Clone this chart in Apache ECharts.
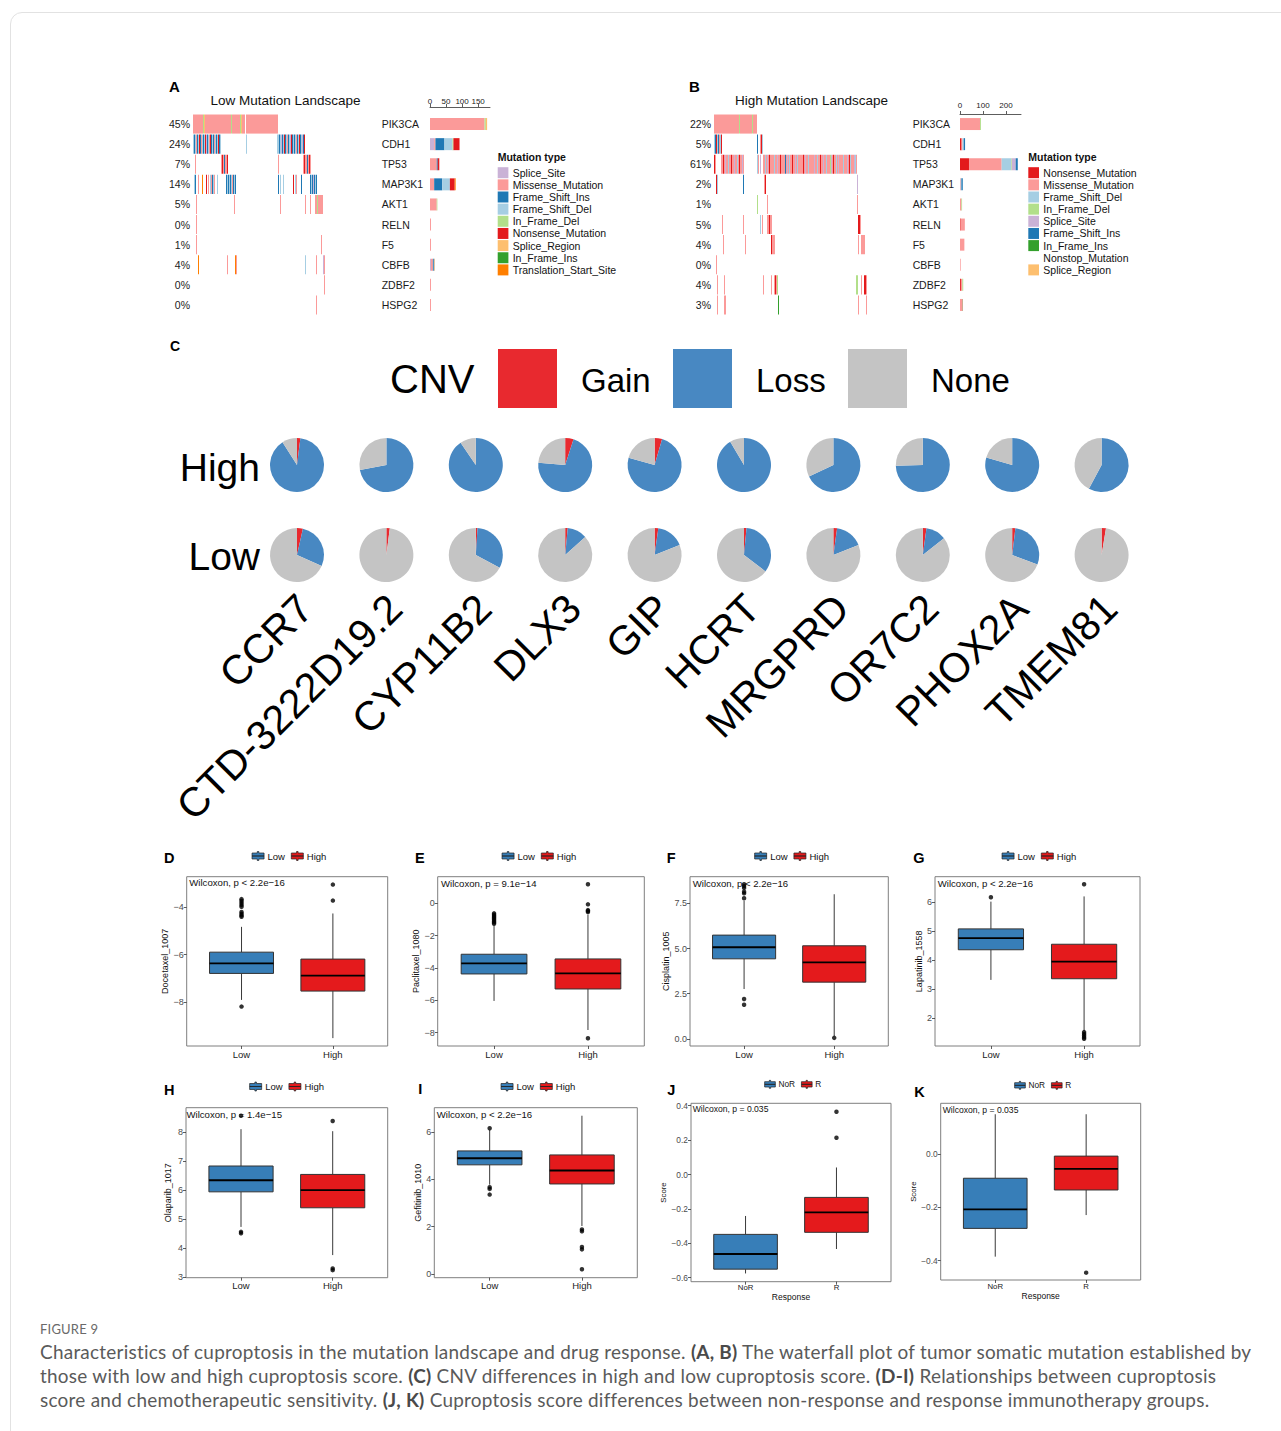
<!DOCTYPE html>
<html><head><meta charset="utf-8">
<script src="https://cdn.jsdelivr.net/npm/echarts@6/dist/echarts.min.js"></script>
<style>
html,body{margin:0;padding:0;background:#fff;width:1281px;height:1431px;overflow:hidden;}
#frame{position:absolute;left:10px;top:12px;width:1300px;height:1500px;border:1px solid #e2e2e2;border-radius:12px;box-sizing:border-box;}
#chart{position:absolute;left:0;top:0;width:1281px;height:1310px;}
#cap{position:absolute;left:40px;top:1318px;font-family:Lato,'Open Sans',sans-serif;color:#5a5a5a;}
#cap .fig{font-size:13px;letter-spacing:0.2px;color:#6a6a6a;height:22px;line-height:22px;}
#cap .ln{white-space:nowrap;font-size:18.6px;letter-spacing:0.25px;line-height:24px;height:24px;}
#cap b{color:#4a4a4a;}
</style></head><body>
<div id="frame"></div>
<div id="chart"></div>
<div id="cap">
<div class="fig">FIGURE 9</div>
<div class="ln"><span id="l1">Characteristics of cuproptosis in the mutation landscape and drug response. <b>(A, B)</b> The waterfall plot of tumor somatic mutation established by</span></div>
<div class="ln">those with low and high cuproptosis score. <b>(C)</b> CNV differences in high and low cuproptosis score. <b>(D-I)</b> Relationships between cuproptosis</div>
<div class="ln">score and chemotherapeutic sensitivity. <b>(J, K)</b> Cuproptosis score differences between non-response and response immunotherapy groups.</div>
</div>
<script>
// fit caption line width to the reference (line 1 spans 1211 px)
function fitCaption(){
  try {
    const l1 = document.getElementById('l1');
    const w = l1.getBoundingClientRect().width;
    const cur = parseFloat(getComputedStyle(l1).fontSize);
    if (w > 0) {
      const fs = cur * 1211 / w;
      document.querySelectorAll('#cap .ln').forEach(el => el.style.fontSize = fs.toFixed(2) + 'px');
    }
  } catch (e) {}
}
fitCaption();

// ---------------- DATA ----------------
const mutTypes = ['Splice_Site','Missense_Mutation','Frame_Shift_Ins','Frame_Shift_Del','In_Frame_Del','Nonsense_Mutation','Splice_Region','In_Frame_Ins','Translation_Start_Site','Nonstop_Mutation'];
const mutCodes = ['S','M','I','D','d','N','R','i','T','X'];
const mutColors = ['#CAB2D6','#FB9A99','#1F78B4','#A6CEE3','#B2DF8A','#E31A1C','#FDBF6F','#33A02C','#FF7F00','#FFFFFF'];

const geneList = ['PIK3CA','CDH1','TP53','MAP3K1','AKT1','RELN','F5','CBFB','ZDBF2','HSPG2'];
const lowPct = ['45%','24%','7%','14%','5%','0%','1%','4%','0%','0%'];
const highPct = ['22%','5%','61%','2%','1%','5%','4%','0%','4%','3%'];

const lowLegendOrder = ['Splice_Site','Missense_Mutation','Frame_Shift_Ins','Frame_Shift_Del','In_Frame_Del','Nonsense_Mutation','Splice_Region','In_Frame_Ins','Translation_Start_Site'];
const highLegendOrder = ['Nonsense_Mutation','Missense_Mutation','Frame_Shift_Del','In_Frame_Del','Splice_Site','Frame_Shift_Ins','In_Frame_Ins','Nonstop_Mutation','Splice_Region'];

// counts per gene, in legend (stack) order
const lowBarCounts = [
  [0,13,0,0,0,0,0,3,0,0],     // Splice_Site
  [170,4,21,13,21,3,3,6,3,3], // Missense
  [0,28,3,25,0,0,0,3,0,0],    // Frame_Shift_Ins
  [0,25,0,24,0,0,0,2,0,0],    // Frame_Shift_Del
  [4,3,0,0,2,0,0,0,0,0],      // In_Frame_Del
  [0,19,5,15,0,0,0,0,0,0],    // Nonsense
  [4,0,0,0,0,0,0,0,0,0],      // Splice_Region
  [0,0,0,0,0,0,0,0,0,0],      // In_Frame_Ins
  [0,0,0,3,0,0,0,1,0,0]       // Translation_Start_Site
];
const highBarCounts = [
  [0,7,39,0,0,3,0,0,4,0],     // Nonsense
  [87,4,142,3,6,18,19,3,6,12],// Missense
  [0,5,41,3,0,0,0,0,0,0],     // Frame_Shift_Del
  [4,0,3,0,3,0,0,0,4,0],      // In_Frame_Del
  [0,0,17,0,0,0,0,0,0,0],     // Splice_Site
  [0,6,9,6,0,0,0,0,0,0],      // Frame_Shift_Ins
  [0,0,0,0,0,0,0,0,0,1],      // In_Frame_Ins
  [0,0,0,0,0,0,0,0,0,0],      // Nonstop
  [0,0,0,0,0,0,0,0,0,0]       // Splice_Region
];
const lowAxisTicks = [0,50,100,150];
const highAxisTicks = [0,100,200];

// oncoplot columns: [start, end, code] runs or [start, 'codes'] stripes ('.' = none)
const lowMatrix = [
  [[0,9,'M'],[10,'dR'],[12,37,'M'],[38,'d'],[39,46,'M'],[47,'dR'],[49,51,'M'],[53,84,'M']],
  [[0,'DIDMIDNIMDIDNSIDMNIDIMDIDNID'],[53,'D'],[84,'DDIDSIDNIDMIDSNIDIDMIDNIDSIN']],
  [[2,'M'],[28,'MNMIMMN'],[85,'M'],[110,'MNMMIMNM']],
  [[1,'DI..M...T...N.M.DMIDM..D'],[33,'IDIDIDMIDI'],[85,'I.D..D'],[100,'N.DM....I'],[117,'IDISIDI']],
  [[3,'M'],[41,'M'],[87,'M'],[112,'M'],[117,'M'],[122,'MMdMMMMM']],
  [[3,'M']],
  [[3,'M'],[128,'M']],
  [[5,'T'],[34,'M'],[42,'TM'],[112,'D'],[123,'M'],[130,'SM']],
  [[131,'M']],
  [[123,'M']]
];
const highTP53Block = 'MMDMSMNMMM' + 'MDMMSMMNMM' + 'MMIMSMDMMN' + 'MMSMDMMMMM' + 'NMSMMDMMMM' +
                      'MSMMDMMNMM' + 'SMMDMMMdSM' + 'NMMDMSMMMM' + 'DMMMSMNDMM' + 'MSDM';
const highMatrix = [
  [[0,24,'M'],[25,'d'],[26,37,'M'],[38,'d'],[39,42,'M']],
  [[0,'DINDIMDN'],[43,'I'],[46,'MND']],
  [[0,'NM'],[7,'MMNMSMMDMMNMMSMMDMNMMSM'],[43,'DM.S'],[49,highTP53Block]],
  [[2,'ND'],[29,'I'],[50,'MN'],[143,'S']],
  [[43,'d'],[53,'M'],[143,'M']],
  [[8,'M'],[29,'M'],[46,'D'],[48,'M'],[53,'MMNMM'],[144,'NNM']],
  [[9,'M'],[31,'M'],[57,'NMMM'],[144,'M'],[147,'MMMM']],
  [[2,'M']],
  [[3,'M'],[10,'M'],[49,'M'],[57,'M'],[60,'MNMd'],[142,'dd'],[147,'M'],[150,'NNM']],
  [[3,'M'],[10,'MM'],[64,'i'],[144,'M'],[152,'M']]
];

// CNV pies (fractions)
const cnvTypes = ['Gain','Loss','None'];
const cnvColors = ['#E8292F','#4888C2','#C4C4C4'];
const cnvGenes = ['CCR7','CTD-3222D19.2','CYP11B2','DLX3','GIP','HCRT','MRGPRD','OR7C2','PHOX2A','TMEM81'];
const highGain = [0.02, 0, 0, 0.05, 0.045, 0, 0, 0, 0, 0];
const highLoss = [0.89, 0.72, 0.905, 0.714, 0.748, 0.915, 0.68, 0.746, 0.795, 0.578];
const highNone = [0.09, 0.28, 0.095, 0.236, 0.207, 0.085, 0.32, 0.254, 0.205, 0.422];
const lowGain = [0.035, 0.02, 0.01, 0.015, 0.022, 0.015, 0.022, 0.022, 0.019, 0.026];
const lowLoss = [0.282, 0, 0.318, 0.118, 0.167, 0.339, 0.168, 0.122, 0.289, 0];
const lowNone = [0.683, 0.98, 0.672, 0.867, 0.811, 0.646, 0.81, 0.856, 0.692, 0.974];

// boxplots: [lower whisker, Q1, median, Q3, upper whisker]
const lowHighGroups = ['Low','High'];
const responseGroups = ['NoR','R'];
const docetaxelLow = [-7.90, -6.79, -6.37, -5.90, -4.84];
const docetaxelHigh = [-9.50, -7.53, -6.88, -6.19, -4.28];
const docetaxelLowOut = [-3.68, -3.76, -3.84, -3.92, -4.00, -4.22, -4.29, -4.36, -4.42, -8.18];
const docetaxelHighOut = [-3.07, -3.74];
const paclitaxelLow = [-6.04, -4.37, -3.71, -3.15, -1.40];
const paclitaxelHigh = [-7.84, -5.30, -4.33, -3.44, -0.70];
const paclitaxelLowOut = [-0.62, -0.70, -0.78, -0.86, -0.94, -1.02, -1.10, -1.18, -1.26];
const paclitaxelHighOut = [1.18, -0.06, -0.42, -0.48, -0.54, -8.35];
const cisplatinLow = [2.76, 4.43, 5.07, 5.74, 7.63];
const cisplatinHigh = [0.15, 3.14, 4.23, 5.15, 8.00];
const cisplatinLowOut = [8.55, 8.45, 8.35, 8.14, 8.05, 7.78, 2.21, 1.89];
const cisplatinHighOut = [0.06];
const lapatinibLow = [3.32, 4.36, 4.76, 5.08, 6.02];
const lapatinibHigh = [1.56, 3.36, 3.95, 4.55, 6.20];
const lapatinibLowOut = [6.17];
const lapatinibHighOut = [6.62, 1.52, 1.46, 1.40, 1.34, 1.29];
const olaparibLow = [4.72, 5.93, 6.33, 6.82, 8.09];
const olaparibHigh = [3.75, 5.38, 5.99, 6.53, 8.02];
const olaparibLowOut = [8.55, 4.55, 4.50];
const olaparibHighOut = [8.37, 3.29, 3.23];
const gefitinibLow = [3.78, 4.62, 4.90, 5.21, 6.10];
const gefitinibHigh = [2.03, 3.81, 4.38, 5.04, 6.70];
const gefitinibLowOut = [6.17, 3.67, 3.60, 3.36];
const gefitinibHighOut = [1.88, 1.81, 1.14, 1.04, 0.20];
const scoreJNoR = [-0.575, -0.550, -0.462, -0.348, -0.241];
const scoreJR = [-0.433, -0.336, -0.220, -0.133, 0.041];
const scoreJNoROut = [];
const scoreJROut = [0.365, 0.214];
const scoreKNoR = [-0.385, -0.279, -0.208, -0.091, 0.149];
const scoreKR = [-0.229, -0.135, -0.056, -0.008, 0.149];
const scoreKNoROut = [];
const scoreKROut = [-0.445];

const docetaxelTicks = [-8,-6,-4];
const paclitaxelTicks = [-8,-6,-4,-2,0];
const cisplatinTicks = [0,2.5,5,7.5];
const lapatinibTicks = [2,3,4,5,6];
const olaparibTicks = [3,4,5,6,7,8];
const gefitinibTicks = [0,2,4,6];
const scoreJTicks = [-0.6,-0.4,-0.2,0,0.2,0.4];
const scoreKTicks = [-0.4,-0.2,0];

// ---------------- LAYOUT ----------------
const FONT = "'Liberation Sans', Arial, Helvetica, sans-serif";
const boxColors = ['#377EB8','#E41A1C'];
const MINUS = '\u2212';
const boxPanels = [
  {letter:'D', yName:'Docetaxel_1007', groups:lowHighGroups, stats:[docetaxelLow,docetaxelHigh], outs:[docetaxelLowOut,docetaxelHighOut], p:'Wilcoxon, p < 2.2e'+MINUS+'16', ticks:docetaxelTicks, yr:[-9.83,-2.74], dec:0, rect:[186.7,876.7,201,169.3], gap:15, leg:[251.7,851], let:[164,858], pAt:[189.3,882.7], small:false},
  {letter:'E', yName:'Paclitaxel_1080', groups:lowHighGroups, stats:[paclitaxelLow,paclitaxelHigh], outs:[paclitaxelLowOut,paclitaxelHighOut], p:'Wilcoxon, p = 9.1e'+MINUS+'14', ticks:paclitaxelTicks, yr:[-8.83,1.65], dec:0, rect:[437.7,876.7,206.6,169.3], gap:15, leg:[501.7,851], let:[415,858], pAt:[441,883], small:false},
  {letter:'F', yName:'Cisplatin_1005', groups:lowHighGroups, stats:[cisplatinLow,cisplatinHigh], outs:[cisplatinLowOut,cisplatinHighOut], p:'Wilcoxon, p < 2.2e'+MINUS+'16', ticks:cisplatinTicks, yr:[-0.39,8.97], dec:1, rect:[690,876.7,198.3,169.3], gap:17, leg:[754.3,851], let:[666.7,858], pAt:[692.7,883], small:false},
  {letter:'G', yName:'Lapatinib_1558', groups:lowHighGroups, stats:[lapatinibLow,lapatinibHigh], outs:[lapatinibLowOut,lapatinibHighOut], p:'Wilcoxon, p < 2.2e'+MINUS+'16', ticks:lapatinibTicks, yr:[1.04,6.88], dec:0, rect:[935,876.7,205,169.3], gap:12, leg:[1001.7,851], let:[913.3,858], pAt:[937.7,883], small:false},
  {letter:'H', yName:'Olaparib_1017', groups:lowHighGroups, stats:[olaparibLow,olaparibHigh], outs:[olaparibLowOut,olaparibHighOut], p:'Wilcoxon, p = 1.4e'+MINUS+'15', ticks:olaparibTicks, yr:[2.97,8.83], dec:0, rect:[186,1107.7,201.7,170], gap:14, leg:[249.3,1081.5], let:[164,1090], pAt:[186.5,1114], small:false},
  {letter:'I', yName:'Gefitinib_1010', groups:lowHighGroups, stats:[gefitinibLow,gefitinibHigh], outs:[gefitinibLowOut,gefitinibHighOut], p:'Wilcoxon, p < 2.2e'+MINUS+'16', ticks:gefitinibTicks, yr:[-0.16,7.04], dec:0, rect:[434.3,1107.7,203,170], gap:11.5, leg:[500.7,1081.5], let:[418.3,1089], pAt:[436.7,1114.3], small:false},
  {letter:'J', yName:'Score', xName:'Response', groups:responseGroups, stats:[scoreJNoR,scoreJR], outs:[scoreJNoROut,scoreJROut], p:'Wilcoxon, p = 0.035', ticks:scoreJTicks, yr:[-0.623,0.414], dec:1, rect:[691,1103.3,200,178.4], gap:18, leg:[764.3,1080], let:[667.3,1090], pAt:[692.7,1109], small:true},
  {letter:'K', yName:'Score', xName:'Response', groups:responseGroups, stats:[scoreKNoR,scoreKR], outs:[scoreKNoROut,scoreKROut], p:'Wilcoxon, p = 0.035', ticks:scoreKTicks, yr:[-0.4725,0.19], dec:1, rect:[940.7,1103.3,200,176.7], gap:18, leg:[1014.3,1081], let:[914.3,1091.5], pAt:[942.7,1110], small:true}
];

// ---------------- BUILD ----------------
function buildCells(rows){
  const out = [];
  rows.forEach((segs, r) => {
    segs.forEach(seg => {
      if (typeof seg[1] === 'string') {
        const p = seg[1];
        for (let k = 0; k < p.length; k++) {
          if (p[k] !== '.') out.push([seg[0] + k, r, mutCodes.indexOf(p[k]), 1]);
        }
      } else {
        out.push([seg[0], r, mutCodes.indexOf(seg[2]), seg[1] - seg[0] + 1]);
      }
    });
  });
  return out;
}
function matrixRender(params, api){
  const c = api.coord([api.value(0), api.value(1)]);
  const s = api.size([api.value(3), 1]);
  return {type:'rect', shape:{x:c[0], y:c[1] - s[1]*0.475, width:s[0], height:s[1]*0.95},
          style:{fill: mutColors[api.value(2)]}};
}
function boxRender(params, api){
  const x = api.value(0);
  const w = api.size([0.7, 0])[0];
  const lo = api.coord([x, api.value(1)]), q1 = api.coord([x, api.value(2)]),
        md = api.coord([x, api.value(3)]), q3 = api.coord([x, api.value(4)]), hi = api.coord([x, api.value(5)]);
  const fill = api.visual('color');
  return {type:'group', children:[
    {type:'line', shape:{x1:lo[0], y1:lo[1], x2:q1[0], y2:q1[1]}, style:{stroke:'#222', lineWidth:0.9}},
    {type:'line', shape:{x1:q3[0], y1:q3[1], x2:hi[0], y2:hi[1]}, style:{stroke:'#222', lineWidth:0.9}},
    {type:'rect', shape:{x:q1[0]-w/2, y:q3[1], width:w, height:q1[1]-q3[1]}, style:{fill:fill, stroke:'#333', lineWidth:1}},
    {type:'line', shape:{x1:md[0]-w/2, y1:md[1], x2:md[0]+w/2, y2:md[1]}, style:{stroke:'#000', lineWidth:1.8}}
  ]};
}
function T(x, y, text, size, o){
  o = o || {};
  return {type:'text', x:x, y:y, rotation:o.rot || 0, silent:true,
    style:{text:text, fontSize:size, fontFamily:FONT, fontWeight:o.bold ? 'bold' : 'normal', fill:o.color || '#111',
      align:o.align || 'left', verticalAlign:o.va || 'middle', textAlign:o.align || 'left', textVerticalAlign:o.va || 'middle'}};
}
function fmtTick(v, dec){ const s = Number(v).toFixed(dec); return s.replace('-', MINUS); }

const grid = [], xAxis = [], yAxis = [], series = [], legend = [], elements = [];

// --- Oncoplots A & B ---
const onco = [
  {mat:lowMatrix, pct:lowPct, counts:lowBarCounts, order:lowLegendOrder, ticks:lowAxisTicks,
   m:[193,132], b:[430,60,187], off:7, lm:2, gm:48.3, title:'Low Mutation Landscape', tx:285.5, letter:'A', lx:169, legX:497.7},
  {mat:highMatrix, pct:highPct, counts:highBarCounts, order:highLegendOrder, ticks:highAxisTicks,
   m:[714,153], b:[960,61,265], off:0, lm:5, gm:47.3, title:'High Mutation Landscape', tx:811.5, letter:'B', lx:689, legX:1028.3}
];
onco.forEach((o, k) => {
  const gi = grid.length;
  grid.push({left:o.m[0], top:114, width:o.m[1], height:201});
  xAxis.push({gridIndex:gi, type:'value', min:0, max:o.m[1], show:false});
  yAxis.push({gridIndex:gi, type:'category', data:geneList, inverse:true, axisLine:{show:false}, axisTick:{show:false},
    axisLabel:{formatter:(v, i) => o.pct[i], fontSize:10.5, margin:3, color:'#1a1a1a', fontFamily:FONT}});
  series.push({type:'custom', name:'matrix'+k, xAxisIndex:gi, yAxisIndex:gi, renderItem:matrixRender,
    encode:{x:0, y:1}, data:buildCells(o.mat), silent:true});
  const bi = grid.length;
  grid.push({left:o.b[0], top:114, width:o.b[1], height:201});
  xAxis.push({gridIndex:bi, type:'value', min:0, max:o.b[2], position:'top', offset:o.off,
    axisLine:{show:true, onZero:false, lineStyle:{color:'#333', width:0.8}},
    axisTick:{show:true, length:3, customValues:o.ticks, lineStyle:{color:'#333', width:0.8}},
    axisLabel:{customValues:o.ticks, fontSize:8, margin:o.lm, color:'#222', fontFamily:FONT},
    splitLine:{show:false}});
  yAxis.push({gridIndex:bi, type:'category', data:geneList, inverse:true, axisLine:{show:false}, axisTick:{show:false},
    axisLabel:{align:'left', margin:o.gm, fontSize:10.5, color:'#1a1a1a', fontFamily:FONT}});
  o.order.forEach((t, j) => {
    series.push({type:'bar', name:t, stack:'onco'+k, xAxisIndex:bi, yAxisIndex:bi, barWidth:12,
      itemStyle:{color:mutColors[mutTypes.indexOf(t)]}, data:o.counts[j], silent:true});
  });
  elements.push(T(o.lx, 86, o.letter, 15, {bold:true, color:'#000'}));
  elements.push(T(o.tx, 100, o.title, 13.5, {align:'center'}));
  elements.push(T(o.legX, 156.7, 'Mutation type', 10.5, {bold:true}));
  o.order.forEach((t, j) => {
    const cy = 172.7 + j*12.15;
    elements.push({type:'rect', silent:true, shape:{x:o.legX, y:cy-5.5, width:10.7, height:11},
      style:{fill:mutColors[mutTypes.indexOf(t)]}});
    elements.push(T(o.legX + 15, cy, t, 10.5));
  });
});

// --- Panel C: CNV pies ---
elements.push(T(170, 346, 'C', 14, {bold:true, color:'#000'}));
elements.push(T(390, 379, 'CNV', 40, {color:'#000'}));
const cnvBoxX = [498, 673, 848];
cnvTypes.forEach((t, j) => {
  elements.push({type:'rect', silent:true, shape:{x:cnvBoxX[j], y:349, width:59, height:59}, style:{fill:cnvColors[j]}});
  elements.push(T(cnvBoxX[j] + 83, 380, t, 33, {color:'#000'}));
});
elements.push(T(260, 467, 'High', 39, {align:'right', color:'#000'}));
elements.push(T(260, 556, 'Low', 39, {align:'right', color:'#000'}));
const pieRows = [
  {y:465, vals:[highGain, highLoss, highNone]},
  {y:555, vals:[lowGain, lowLoss, lowNone]}
];
cnvGenes.forEach((g, i) => {
  const cx = 297 + i*89.4;
  pieRows.forEach(r => {
    series.push({type:'pie', center:[cx, r.y], radius:27, startAngle:90, clockwise:true, silent:true,
      label:{show:false}, labelLine:{show:false}, emphasis:{disabled:true},
      data:cnvTypes.map((t, j) => ({name:t, value:r.vals[j][i], itemStyle:{color:cnvColors[j]}}))});
  });
  elements.push(T(cx - 6, 587, g, 41, {align:'right', va:'top', rot:Math.PI/4, color:'#000'}));
});

// --- Boxplots D-K ---
const legendIcon = 'path://M7,0h2v2h7v4h-16v-4h7z M0,6h16v4h-7v2h-2v-2h-7z';
boxPanels.forEach(p => {
  const gi = grid.length;
  const fs = p.small ? 8.4 : 9;
  grid.push({left:p.rect[0], top:p.rect[1], width:p.rect[2], height:p.rect[3], show:true,
    borderColor:'#7f7f7f', borderWidth:1, backgroundColor:'#fff'});
  xAxis.push({gridIndex:gi, type:'value', min:0.4, max:2.6, position:'bottom',
    name:p.xName || '', nameLocation:'middle', nameGap:11, nameTextStyle:{fontSize:8.5, color:'#111', fontFamily:FONT},
    axisLine:{show:false, onZero:false}, splitLine:{show:false},
    axisTick:{show:true, length:3, customValues:[1,2], lineStyle:{color:'#333', width:0.8}},
    axisLabel:{customValues:[1,2], formatter:v => p.groups[Math.round(v)-1], fontSize:p.small ? 7.8 : 9.5,
      margin:p.small ? 2 : 3, color:'#222', fontFamily:FONT}});
  yAxis.push({gridIndex:gi, type:'value', min:p.yr[0], max:p.yr[1], position:'left',
    name:p.yName, nameLocation:'middle', nameGap:p.gap, nameTextStyle:{fontSize:p.small ? 7.8 : 9, color:'#111', fontFamily:FONT},
    axisLine:{show:false, onZero:false}, splitLine:{show:false},
    axisTick:{show:true, length:3, customValues:p.ticks, lineStyle:{color:'#333', width:0.8}},
    axisLabel:{customValues:p.ticks, formatter:v => fmtTick(v, p.dec), fontSize:fs, margin:3, color:'#4d4d4d', fontFamily:FONT}});
  p.groups.forEach((g, j) => {
    series.push({type:'custom', name:g, xAxisIndex:gi, yAxisIndex:gi, renderItem:boxRender,
      itemStyle:{color:boxColors[j]}, dimensions:['x','lo','q1','med','q3','hi'],
      encode:{x:0, y:[1,2,3,4,5]}, data:[[j+1].concat(p.stats[j])], silent:true});
  });
  const outData = [];
  p.outs.forEach((arr, j) => arr.forEach(v => outData.push([j+1, v])));
  series.push({type:'scatter', name:'outliers', xAxisIndex:gi, yAxisIndex:gi, symbolSize:4.5,
    itemStyle:{color:'#000'}, data:outData, silent:true, z:5});
  legend.push({data:p.groups, left:p.leg[0], top:p.leg[1], padding:0, itemGap:6,
    itemWidth:p.small ? 11 : 13, itemHeight:p.small ? 8 : 9, icon:legendIcon, selectedMode:false,
    itemStyle:{borderColor:'#222', borderWidth:0.7},
    textStyle:{fontSize:p.small ? 8.3 : 9.5, color:'#111', fontFamily:FONT, padding:[0,0,0,-2]}});
  elements.push(T(p.let[0], p.let[1], p.letter, 14.5, {bold:true, color:'#000'}));
  elements.push(T(p.pAt[0], p.pAt[1], p.p, p.small ? 8.6 : 9.6));
});

const chart = echarts.init(document.getElementById('chart'), null, {renderer:'svg', width:1281, height:1310});
chart.setOption({
  animation:false,
  textStyle:{fontFamily:FONT},
  grid:grid, xAxis:xAxis, yAxis:yAxis, series:series, legend:legend,
  graphic:{elements:elements}
});
fitCaption();
if (document.fonts && document.fonts.ready) document.fonts.ready.then(fitCaption);
</script>
</body></html>
